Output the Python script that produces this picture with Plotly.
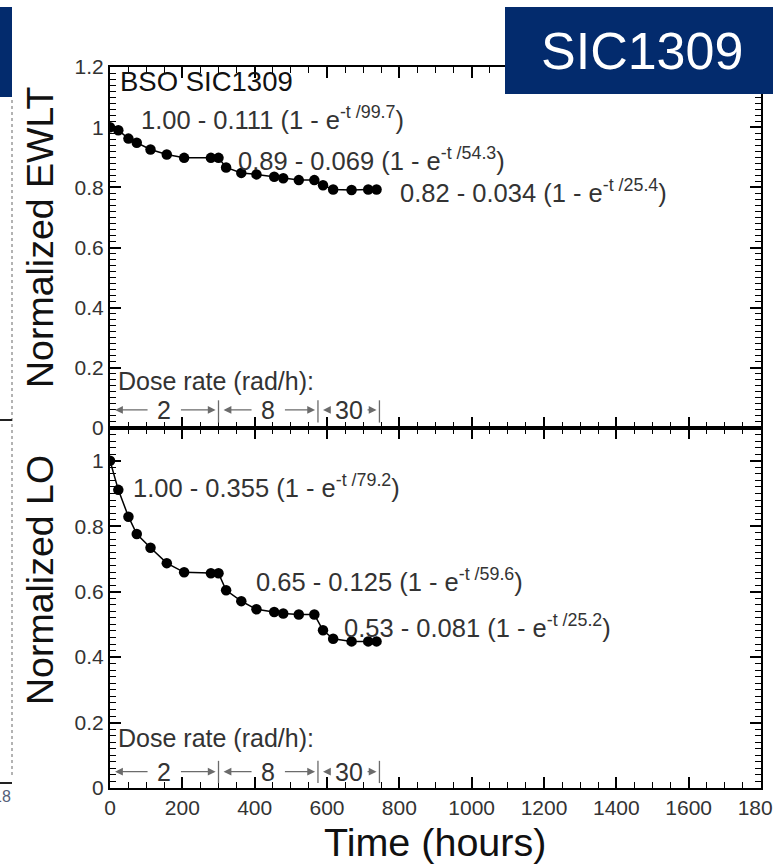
import plotly.graph_objects as go

# Irradiation history of BSO crystal SIC1309
hours = [0, 23, 51, 74, 112, 157, 205, 279, 300, 321, 363, 405, 454, 479, 522, 565, 589, 617, 668, 714, 737]
ewlt = [1.0, 0.990, 0.962, 0.948, 0.926, 0.909, 0.898, 0.898, 0.898, 0.866, 0.848, 0.843, 0.835,
        0.830, 0.824, 0.824, 0.807, 0.793, 0.791, 0.793, 0.793]
light_output = [1.0, 0.911, 0.829, 0.776, 0.734, 0.687, 0.659, 0.656, 0.656, 0.604, 0.571, 0.546,
                0.538, 0.533, 0.530, 0.530, 0.482, 0.456, 0.448, 0.448, 0.448]

# Exponential fits a - b (1 - exp(-t/tau)) for each dose-rate step
ewlt_fit_a = [1.00, 0.89, 0.82]
ewlt_fit_b = [0.111, 0.069, 0.034]
ewlt_fit_tau = [99.7, 54.3, 25.4]
lo_fit_a = [1.00, 0.65, 0.53]
lo_fit_b = [0.355, 0.125, 0.081]
lo_fit_tau = [79.2, 59.6, 25.2]

# Dose-rate steps (rad/h) and their time spans (hours)
dose_rates = ["2", "8", "30"]
dose_start = [0, 300, 575]
dose_end = [300, 575, 745]

x_ticks = [0, 200, 400, 600, 800, 1000, 1200, 1400, 1600, 1800]

FONT = "Liberation Sans, Arial, sans-serif"
TXT = "#333333"
NAVY = "#032b6d"

# pixel geometry of the plotting frame
W, H = 773, 864
L, R, T, B = 110, 12, 67, 76
PW, PH = W - L - R, H - T - B
split = 360 / PH


def px(xp):
    return (xp - L) / PW


def py(yp):
    return (H - B - yp) / PH


def fit_label(a, b, tau):
    return f"{a:.2f} - {b:.3f} (1 - e<sup>-t /{tau}</sup>)"


fig = go.Figure()

fig.add_trace(go.Scatter(
    x=hours, y=ewlt, xaxis="x2", yaxis="y2", mode="lines+markers",
    line=dict(color="black", width=1.5), marker=dict(color="black", size=10.5),
    showlegend=False))
fig.add_trace(go.Scatter(
    x=hours, y=light_output, xaxis="x", yaxis="y", mode="lines+markers",
    line=dict(color="black", width=1.5), marker=dict(color="black", size=10.5),
    showlegend=False))

axis_common = dict(
    showline=True, linecolor="black", linewidth=2, mirror="ticks",
    ticks="inside", ticklen=11, tickwidth=1.5, tickcolor="black",
    showgrid=False, zeroline=False, automargin=False,
    tickfont=dict(family=FONT, size=21, color=TXT),
)
minor_common = dict(ticks="inside", ticklen=6, tickwidth=1, tickcolor="black")

fig.update_layout(
    width=W, height=H,
    margin=dict(l=L, r=R, t=T, b=B),
    paper_bgcolor="white", plot_bgcolor="white",
    xaxis=dict(anchor="y", range=[0, 1800], tickvals=x_ticks, ticklabeloverflow="allow",
               minor=dict(dtick=50, **minor_common), **axis_common),
    xaxis2=dict(anchor="y2", matches="x", range=[0, 1800], tickvals=x_ticks, showticklabels=False,
                minor=dict(dtick=50, **minor_common), **axis_common),
    yaxis=dict(anchor="x", domain=[0, split], range=[0, 1.1], tick0=0, dtick=0.2,
               minor=dict(dtick=0.02, **minor_common), **axis_common),
    yaxis2=dict(anchor="x2", domain=[split, 1], range=[0, 1.2], tick0=0, dtick=0.2,
                minor=dict(dtick=0.02, **minor_common), **axis_common),
)

ann = []
shapes = []

# panel labels and fit formulas
ann.append(dict(x=22, y=1.153, xref="x2", yref="y2", text="BSO SIC1309", showarrow=False,
                xanchor="left", yanchor="middle", font=dict(family=FONT, size=27.5, color="#111111")))
ewlt_pos = [(80, 1.032), (349, 0.894), (795, 0.787)]
for (xp, yp), a, b, tau in zip(ewlt_pos, ewlt_fit_a, ewlt_fit_b, ewlt_fit_tau):
    ann.append(dict(x=xp, y=yp, xref="x2", yref="y2", text=fit_label(a, b, tau), showarrow=False,
                    xanchor="left", yanchor="middle", font=dict(family=FONT, size=25.5, color=TXT)))
lo_pos = [(57, 0.924), (398, 0.637), (642, 0.494)]
for (xp, yp), a, b, tau in zip(lo_pos, lo_fit_a, lo_fit_b, lo_fit_tau):
    ann.append(dict(x=xp, y=yp, xref="x", yref="y", text=fit_label(a, b, tau), showarrow=False,
                    xanchor="left", yanchor="middle", font=dict(family=FONT, size=25.5, color=TXT)))

# dose-rate markers in both panels
for xr, yr, y_text, y_arrow, y_top, y_bot in [("x2", "y2", 0.156, 0.06, 0.092, 0.018),
                                               ("x", "y", 0.152, 0.05, 0.083, 0.015)]:
    ann.append(dict(x=17, y=y_text, xref=xr, yref=yr, text="Dose rate (rad/h):", showarrow=False,
                    xanchor="left", yanchor="middle", font=dict(family=FONT, size=25, color=TXT)))
    for lab, t0, t1 in zip(dose_rates, dose_start, dose_end):
        mid = (t0 + t1) / 2
        gap = 42 if len(lab) == 1 else 48
        ann.append(dict(x=mid, y=y_arrow, xref=xr, yref=yr, text=lab, showarrow=False,
                        xanchor="center", yanchor="middle", font=dict(family=FONT, size=25, color=TXT)))
        for head, tail in [(t0 + 14, mid - gap), (t1 - 8, mid + gap)]:
            ann.append(dict(x=head, y=y_arrow, ax=tail, ay=y_arrow, xref=xr, yref=yr,
                            axref=xr, ayref=yr, text="", showarrow=True, arrowhead=2,
                            arrowsize=1.2, arrowwidth=1.3, arrowcolor="#6b6b6b", standoff=0))
        shapes.append(dict(type="line", xref=xr, yref=yr, x0=t1, x1=t1, y0=y_bot, y1=y_top,
                           line=dict(color="#6b6b6b", width=1.3)))

# axis titles
ann.append(dict(x=px(40), y=py(237), xref="paper", yref="paper", text="Normalized EWLT",
                textangle=-90, showarrow=False, xanchor="center", yanchor="middle",
                font=dict(family=FONT, size=37.5, color="#111111")))
ann.append(dict(x=px(40), y=py(580), xref="paper", yref="paper", text="Normalized LO",
                textangle=-90, showarrow=False, xanchor="center", yanchor="middle",
                font=dict(family=FONT, size=37.5, color="#111111")))
ann.append(dict(x=px(435), y=py(842), xref="paper", yref="paper", text="Time (hours)",
                showarrow=False, xanchor="center", yanchor="middle",
                font=dict(family=FONT, size=39.5, color="#111111")))

# slide banner with the crystal name
shapes.append(dict(type="rect", xref="paper", yref="paper", x0=px(505), x1=px(780),
                   y0=py(94), y1=py(7), fillcolor=NAVY, line=dict(width=0), layer="above"))
ann.append(dict(x=px(642), y=py(51), xref="paper", yref="paper", text="SIC1309", showarrow=False,
                xanchor="center", yanchor="middle", font=dict(family=FONT, size=52, color="white")))

# edge of the neighbouring panel on the slide
shapes.append(dict(type="rect", xref="paper", yref="paper", x0=px(-5), x1=px(12),
                   y0=py(97), y1=py(7), fillcolor=NAVY, line=dict(width=0), layer="above"))
shapes.append(dict(type="line", xref="paper", yref="paper", x0=px(12), x1=px(12),
                   y0=py(100), y1=py(778), line=dict(color="#9a9a9a", width=1.5, dash="dot")))
for yy in (420, 783):
    shapes.append(dict(type="line", xref="paper", yref="paper", x0=px(-2), x1=px(12),
                       y0=py(yy), y1=py(yy), line=dict(color="#222222", width=2)))
ann.append(dict(x=px(13), y=py(796), xref="paper", yref="paper", text="18", showarrow=False,
                xanchor="right", yanchor="middle", font=dict(family=FONT, size=16, color="#556077")))

fig.update_layout(annotations=ann, shapes=shapes)

fig.write_html("out.html")
